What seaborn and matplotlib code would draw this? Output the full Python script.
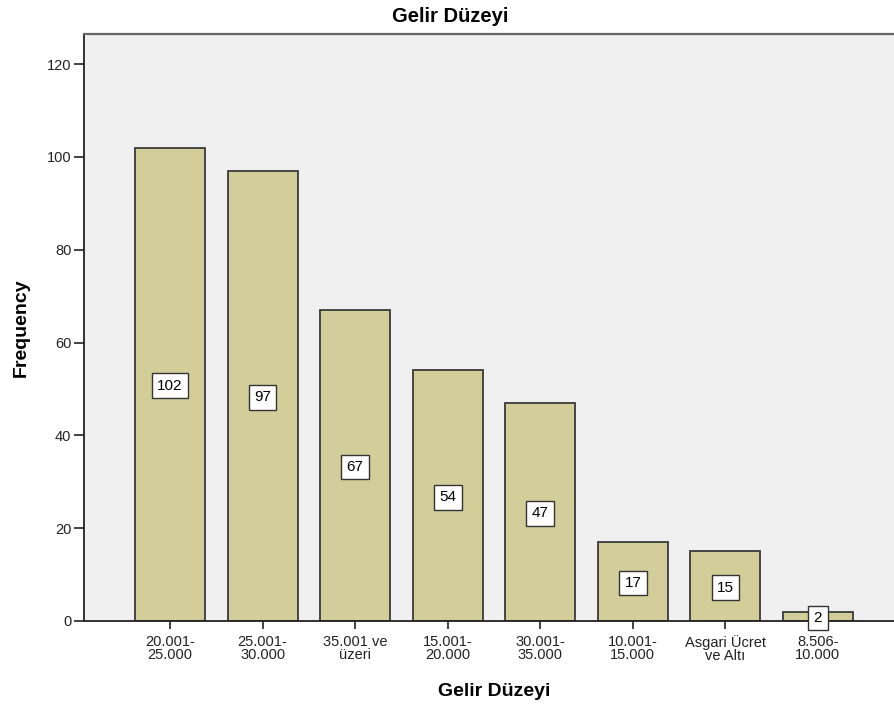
import matplotlib
matplotlib.use("Agg")
import matplotlib.pyplot as plt
import seaborn as sns
import pandas as pd

categories = ["20.001-\n25.000", "25.001-\n30.000", "35.001 ve\nüzeri", "15.001-\n20.000",
              "30.001-\n35.000", "10.001-\n15.000", "Asgari Ücret\nve Altı", "8.506-\n10.000"]
counts = [102, 97, 67, 54, 47, 17, 15, 2]
yticks = [0, 20, 40, 60, 80, 100, 120]

sns.set_theme(style="white")
plt.rcParams["font.family"] = ["Liberation Sans", "DejaVu Sans"]

df = pd.DataFrame({"cat": categories, "n": counts})

fig = plt.figure(figsize=(8.95, 7.09), dpi=100)
ax = fig.add_axes([84 / 895, 1 - 621 / 709, (904 - 84) / 895, (621 - 34) / 709])
ax.set_facecolor("#F0F0F0")

sns.barplot(data=df, x="cat", y="n", color="#D3CE99", saturation=1, width=0.757,
            edgecolor="#3A3A3A", linewidth=1.3, ax=ax)

for i, v in enumerate(counts):
    ax.text(i, v / 2, str(v), ha="center", va="center_baseline", fontsize=11, color="black",
            bbox=dict(boxstyle="square,pad=0.35", facecolor="white", edgecolor="#333333", linewidth=1.0),
            zorder=5)

ax.set_xlim(-0.93, 7.93)
ax.set_ylim(0, 126.5)
ax.set_yticks(yticks)
ax.tick_params(axis="both", which="both", direction="out", length=7, width=1.2,
               color="#222222", labelsize=10.5, labelcolor="#222222", pad=2,
               left=True, bottom=True)
ax.tick_params(axis="x", length=6, pad=4)

for side in ["left", "bottom"]:
    ax.spines[side].set_color("#222222")
    ax.spines[side].set_linewidth(1.3)
ax.spines["top"].set_color("#666666")
ax.spines["top"].set_linewidth(1.6)
ax.spines["right"].set_visible(False)

ax.set_xlabel("Gelir Düzeyi", fontsize=14, fontweight="bold", labelpad=15, color="black")
ax.set_ylabel("Frequency", fontsize=14, fontweight="bold", labelpad=12, color="black")
for lbl in ax.get_xticklabels():
    lbl.set_linespacing(0.88)

fig.text(450 / 895, 1 - 16 / 709, "Gelir Düzeyi", ha="center", va="center",
         fontsize=14.5, fontweight="bold", color="black")

fig.savefig("out.png", dpi=100, facecolor="white")
